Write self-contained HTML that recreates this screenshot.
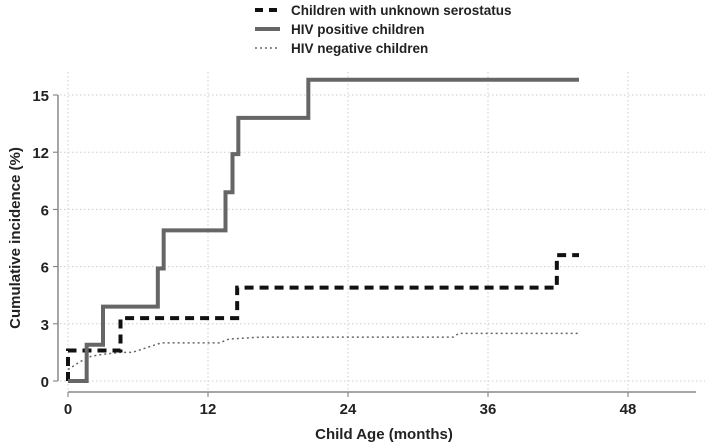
<!DOCTYPE html>
<html><head><meta charset="utf-8"><style>
body{margin:0;background:#fff;}
svg{display:block;font-family:"Liberation Sans",Arial,sans-serif;}
text{font-weight:bold;}
</style></head><body>
<svg id="chart" width="709" height="445"></svg>
<script>
const xTickValues=[0,12,24,36,48];
const xTickLabels=["0","12","24","36","48"];
const yTickValues=[0,3,6,9,12,15];
const yTickLabels=["0","3","6","6","12","15"];
const posX=[0,1.6,1.6,3.0,3.0,7.7,7.7,8.2,8.2,13.5,13.5,14.1,14.1,14.6,14.6,20.6,20.6,43.8];
const posY=[0,0,1.9,1.9,3.9,3.9,5.9,5.9,7.9,7.9,9.9,9.9,11.9,11.9,13.8,13.8,15.8,15.8];
const unkX=[0,0,4.5,4.5,14.5,14.5,41.9,41.9,43.8];
const unkY=[0,1.6,1.6,3.3,3.3,4.9,4.9,6.6,6.6];
const negX=[0,1.0,2.0,3.0,4.5,5.5,6.5,8.0,13.0,13.8,16.5,33.0,33.5,43.8];
const negY=[0.6,1.0,1.3,1.4,1.5,1.5,1.7,2.0,2.0,2.2,2.3,2.3,2.5,2.5];
const NS="http://www.w3.org/2000/svg";
const svg=document.getElementById('chart');
const X=v=>68+v*(140/12);
const Y=v=>381-v*(286/15);
function mk(t,a,p){const e=document.createElementNS(NS,t);for(const k in a)e.setAttribute(k,a[k]);(p||svg).appendChild(e);return e;}
yTickValues.forEach((v,i)=>{
 const g=mk('line',{x1:60,x2:705,y1:Y(v),y2:Y(v),stroke:'#ccc','stroke-width':1,'stroke-dasharray':'1.5 2.5'});
 
 
 const t=mk('line',{x1:53,x2:58,y1:Y(v),y2:Y(v),stroke:'#777','stroke-width':1});
 
 
 const l=mk('text',{x:49,y:Y(v)+6,'text-anchor':'end','font-size':15,fill:'#222'});
 l.textContent=yTickLabels[i];
 
 
});
xTickValues.forEach((v,i)=>{
 const g=mk('line',{x1:X(v),x2:X(v),y1:72,y2:392,stroke:'#ccc','stroke-width':1,'stroke-dasharray':'1.5 2.5'});
 
 
 const t=mk('line',{x1:X(v),x2:X(v),y1:392,y2:397,stroke:'#777','stroke-width':1});
 
 
 const l=mk('text',{x:X(v),y:414,'text-anchor':'middle','font-size':15,fill:'#222'});
 l.textContent=xTickLabels[i];
 
 
});
const ya=mk('line',{x1:58,x2:58,y1:Y(15),y2:Y(0),stroke:'#888','stroke-width':1.5});


const xa=mk('line',{x1:68,x2:696,y1:392,y2:392,stroke:'#888','stroke-width':1.5});


function pts(xs,ys){return xs.map((x,i)=>X(x)+','+Y(ys[i])).join(' ');}
const neg=mk('polyline',{points:pts(negX,negY),fill:'none',stroke:'#666','stroke-width':1.5,'stroke-dasharray':'2 3'});


const unk=mk('polyline',{points:pts(unkX,unkY),fill:'none',stroke:'#111','stroke-width':4,'stroke-dasharray':'9 6'});


const pos=mk('polyline',{points:pts(posX,posY),fill:'none',stroke:'#666','stroke-width':4});


const xt=mk('text',{x:384,y:439,'text-anchor':'middle','font-size':15,fill:'#222'});
xt.textContent='Child Age (months)';


const yt=mk('text',{x:0,y:0,'text-anchor':'middle','font-size':15,fill:'#222',transform:'translate(20,238) rotate(-90)'});
yt.textContent='Cumulative incidence (%)';


const leg=[["Children with unknown serostatus",'#111',4,'8 6'],["HIV positive children",'#666',4,''],["HIV negative children",'#666',1.5,'2 3']];
leg.forEach((d,i)=>{
 const y=10+i*19;
 const g=mk('g',{});
 
 
 mk('line',{x1:255,x2:280,y1:y,y2:y,stroke:d[1],'stroke-width':d[2],'stroke-dasharray':d[3]},g);
 const t=mk('text',{x:291,y:y+5,'font-size':13.5,fill:'#222'},g);
 t.textContent=d[0];
});
</script>
</body></html>
